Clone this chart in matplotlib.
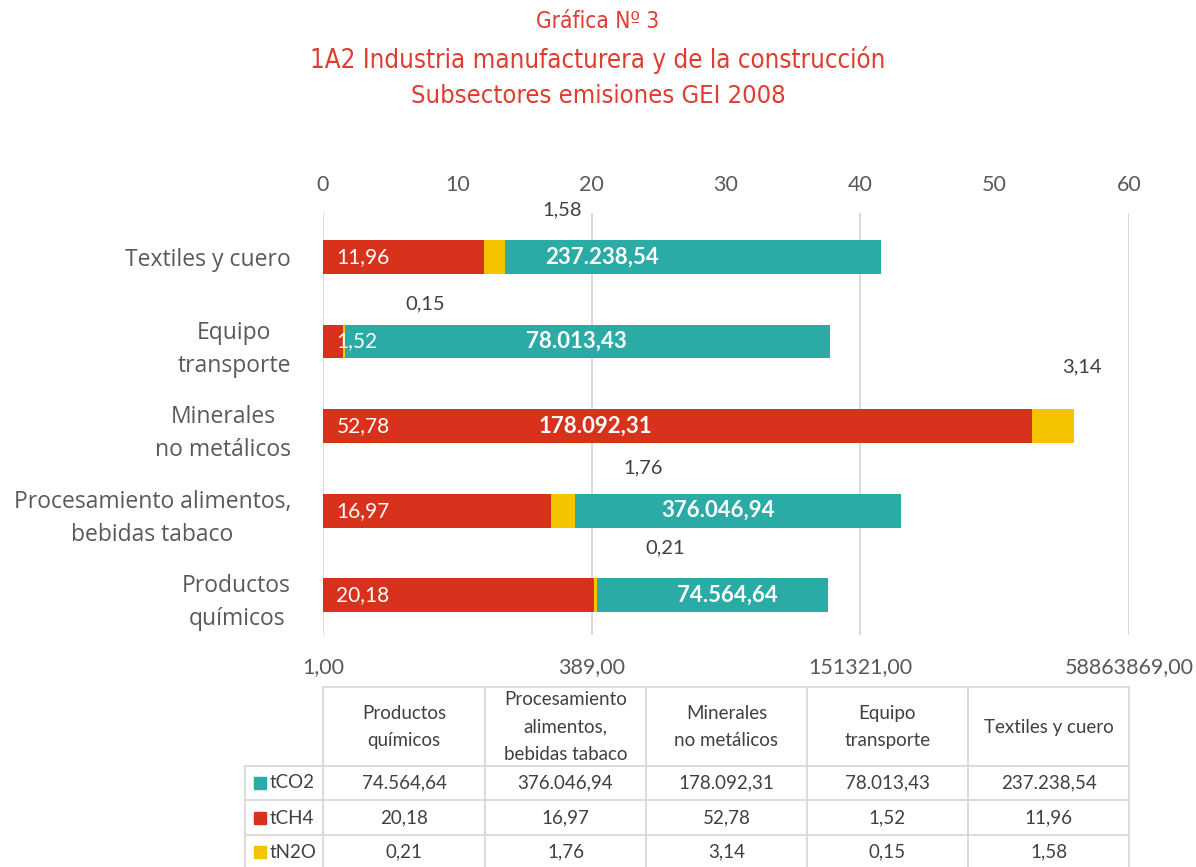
import matplotlib
matplotlib.use('Agg')
import matplotlib.pyplot as plt
import numpy as np
from matplotlib import font_manager
from matplotlib.patches import Rectangle
from matplotlib.ticker import FixedLocator, NullLocator

# data (bottom to top of chart = table column order)
categories = ['Productos\nquímicos', 'Procesamiento alimentos,\nbebidas tabaco',
              'Minerales\nno metálicos', 'Equipo\ntransporte', 'Textiles y cuero']
table_headers = ['Productos\nquímicos', 'Procesamiento\nalimentos,\nbebidas tabaco',
                 'Minerales\nno metálicos', 'Equipo\ntransporte', 'Textiles y cuero']
tco2 = [74564.64, 376046.94, 178092.31, 78013.43, 237238.54]
tch4 = [20.18, 16.97, 52.78, 1.52, 11.96]
tn2o = [0.21, 1.76, 3.14, 0.15, 1.58]
top_ticks = [0, 10, 20, 30, 40, 50, 60]
log_ticks = [1, 389, 151321, 58863869]

c_co2 = '#2BABA6'
c_ch4 = '#D9321C'
c_n2o = '#F5C400'
grey = '#595959'
dark = '#404040'
font = ['Lato', 'DejaVu Sans']
label_font = ['Open Sans', 'DejaVu Sans']


def stretch_num(s):
    if isinstance(s, (int, float)):
        return s
    return font_manager.stretch_dict.get(s, 500)


# the narrowest regular face installed, for the title
title_family, title_stretch = 'Roboto', 'normal'
best = 500
for f in font_manager.fontManager.ttflist:
    nm = f.name.lower()
    sn = stretch_num(f.stretch)
    if ('condensed' in nm or 'narrow' in nm) and sn >= 500:
        sn = 450
    if sn < best and f.style == 'normal' and f.weight in (400, 'normal', 'regular'):
        best = sn
        title_family, title_stretch = f.name, f.stretch


def es(v, dec=2, thousands=True):
    s = f'{v:,.{dec}f}' if thousands else f'{v:.{dec}f}'
    return s.replace(',', 'X').replace('.', ',').replace('X', '.')


fig = plt.figure(figsize=(11.96, 8.67), dpi=100)
W, H = 1196, 867

# title, sized so each line spans the same width as in the original
titles = [('Gráfica Nº 3', 22, 123), ('1A2 Industria manufacturera y de la construcción', 60, 575),
          ('Subsectores emisiones GEI 2008', 96, 375)]
renderer = fig.canvas.get_renderer()
for txt, yy, width in titles:
    t = fig.text(598 / W, 1 - yy / H, txt, ha='center', va='center', color='#E03C31',
                 fontsize=20, family=[title_family, 'DejaVu Sans'], fontstretch=title_stretch)
    w = t.get_window_extent(renderer).width
    t.set_fontsize(20 * width / w)

# CO2 on log (base 389) axis at bottom
ax = fig.add_axes([323 / W, 1 - 635 / H, (1129 - 323) / W, (635 - 213) / H])
y = np.arange(len(categories))
bh = 0.40
ax.barh(y, tco2, left=1, height=bh, color=c_co2)
ax.set_xscale('log', base=389)
ax.set_xlim(1, 389 ** 3)
ax.set_ylim(-0.47, 4.52)
ax.xaxis.set_major_locator(FixedLocator(log_ticks))
ax.xaxis.set_minor_locator(NullLocator())
ax.set_xticklabels([es(t, thousands=False) for t in log_ticks])
ax.set_yticks(y)
ax.set_yticklabels(categories, ha='right', multialignment='center', linespacing=1.5)
ax.tick_params(axis='x', length=0, pad=16, labelsize=15.5, labelcolor=grey)
ax.tick_params(axis='y', length=0, pad=23, labelsize=16.5, labelcolor=grey)
for lab in ax.get_xticklabels():
    lab.set_family(font)
for lab in ax.get_yticklabels():
    lab.set_family(label_font)
ax.grid(axis='x', color='#D9D9D9', lw=1.3)
ax.set_axisbelow(True)
for s in ax.spines.values():
    s.set_visible(False)

# CH4 / N2O on linear axis at top
ax2 = ax.twiny()
ax2.barh(y, tch4, height=bh, color=c_ch4)
ax2.barh(y, tn2o, left=tch4, height=bh, color=c_n2o)
ax2.set_xlim(0, 60)
ax2.set_xticks(top_ticks)
ax2.set_xticklabels([str(t) for t in top_ticks])
ax2.tick_params(axis='x', length=0, pad=13, labelsize=15.5, labelcolor=grey)
for lab in ax2.get_xticklabels():
    lab.set_family(font)
for s in ax2.spines.values():
    s.set_visible(False)

# CO2 labels: centred on the bar in log space, two moved by hand
co2_manual = {0: 0.502, 1: 0.490}
for i, v in enumerate(tco2):
    if i in co2_manual:
        ax2.text(co2_manual[i], i, es(v), transform=ax2.get_yaxis_transform(),
                 ha='center', va='center', color='white', fontsize=16,
                 fontweight='bold', family=font)
    else:
        ax2.text(np.sqrt(v), i, es(v), transform=ax.transData, ha='center', va='center',
                 color='white', fontsize=16, fontweight='bold', family=font)

for i, v in enumerate(tch4):
    ax2.text(1.0, i, es(v), ha='left', va='center', color='white',
             fontsize=15, family=font)

# N2O labels placed by hand above the bars
n2o_lab_x = [25.5, 23.8, 56.5, 7.6, 17.8]
n2o_lab_dy = [0.56, 0.51, 0.70, 0.45, 0.56]
for i, v in enumerate(tn2o):
    ax2.text(n2o_lab_x[i], i + n2o_lab_dy[i], es(v), ha='center', va='center',
             color=dark, fontsize=14.5, family=font, clip_on=False)

# data table below (pixel coordinates)
tab = fig.add_axes([0, 0, 1, 1])
tab.set_xlim(0, W)
tab.set_ylim(H, 0)
tab.axis('off')
lc = '#D9D9D9'
cols = [323, 485, 646, 807, 968, 1129]
tab.plot([323, 1129], [687, 687], color=lc, lw=1.3)
for yy in [766, 800, 835]:
    tab.plot([245, 1129], [yy, yy], color=lc, lw=1.3)
for xx in cols:
    tab.plot([xx, xx], [687, H], color=lc, lw=1.3)
tab.plot([245, 245], [766, H], color=lc, lw=1.3)

for j, h in enumerate(table_headers):
    tab.text((cols[j] + cols[j + 1]) / 2, 727, h, ha='center', va='center',
             color=dark, fontsize=13.5, family=font, linespacing=1.75)

rows = [('tCO2', c_co2, tco2), ('tCH4', c_ch4, tch4), ('tN2O', c_n2o, tn2o)]
row_y = [783, 818, 852]
for (name, col, vals), yy in zip(rows, row_y):
    tab.add_patch(Rectangle((254, yy - 6), 12, 12, color=col))
    tab.text(270, yy, name, ha='left', va='center', color=dark,
             fontsize=13.5, family=font)
    for j, v in enumerate(vals):
        tab.text((cols[j] + cols[j + 1]) / 2, yy, es(v), ha='center', va='center',
                 color=dark, fontsize=13.5, family=font)

fig.savefig('out.png', dpi=100)
